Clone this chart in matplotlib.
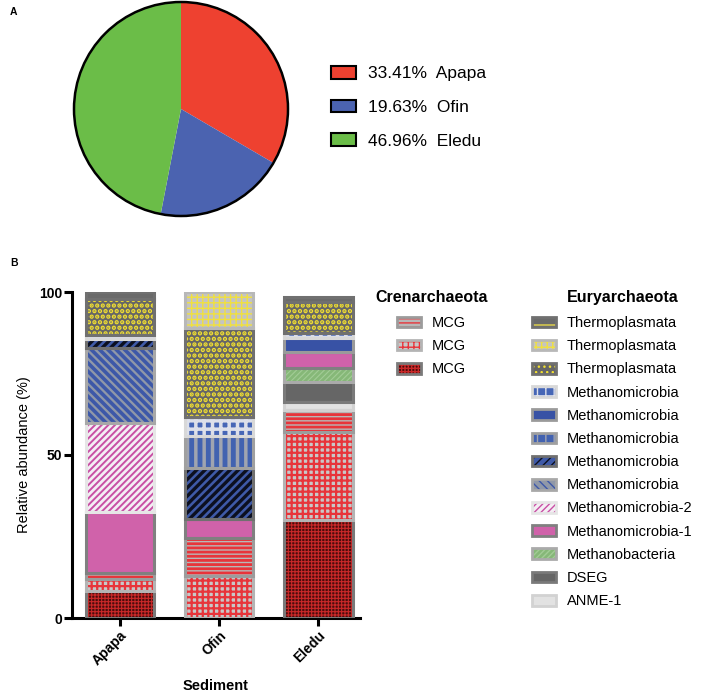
import matplotlib
matplotlib.use("Agg")
import matplotlib.pyplot as plt
from matplotlib.patches import Patch, Circle
import numpy as np

plt.rcParams['font.family'] = ['Liberation Sans', 'DejaVu Sans']

# ---------------- data ----------------
sites = ["Apapa", "Ofin", "Eledu"]
pie_pct = [33.41, 19.63, 46.96]
pie_colors = ["#ee4130", "#4b63b0", "#6bbd48"]

# stacked relative abundance (%), bottom -> top
mcg_dark = [8.4, 0.0, 30.0]
mcg_checker = [3.6, 13.0, 27.1]
mcg_stripes = [1.8, 11.5, 6.7]
anme1 = [0.0, 0.0, 2.6]
dseg = [0.0, 0.0, 6.0]
methanobacteria = [0.0, 0.0, 4.2]
methanomicrobia_1 = [18.8, 5.9, 5.0]
methanomicrobia_2 = [27.2, 0.0, 0.0]
mm_diag_light = [23.0, 0.0, 0.0]
mm_diag_dark = [2.7, 15.7, 0.0]
mm_vertical = [0.0, 9.8, 0.0]
mm_solid = [0.0, 0.0, 4.3]
mm_squares = [1.3, 5.7, 1.5]
thermo_dots = [11.2, 27.4, 9.5]
thermo_brick = [0.0, 11.0, 0.0]
thermo_dash = [2.0, 0.0, 1.7]

stack_order = ["mcg_dark", "mcg_checker", "mcg_stripes", "anme1", "dseg",
               "methanobacteria", "mm1", "mm2", "mm_diag_light", "mm_diag_dark",
               "mm_vertical", "mm_solid", "mm_squares", "thermo_dots",
               "thermo_brick", "thermo_dash"]
values = {
    "mcg_dark": mcg_dark, "mcg_checker": mcg_checker, "mcg_stripes": mcg_stripes,
    "anme1": anme1, "dseg": dseg, "methanobacteria": methanobacteria,
    "mm1": methanomicrobia_1, "mm2": methanomicrobia_2,
    "mm_diag_light": mm_diag_light, "mm_diag_dark": mm_diag_dark,
    "mm_vertical": mm_vertical, "mm_solid": mm_solid, "mm_squares": mm_squares,
    "thermo_dots": thermo_dots, "thermo_brick": thermo_brick, "thermo_dash": thermo_dash,
}
labels = {
    "mcg_dark": "MCG", "mcg_checker": "MCG", "mcg_stripes": "MCG",
    "anme1": "ANME-1", "dseg": "DSEG", "methanobacteria": "Methanobacteria",
    "mm1": "Methanomicrobia-1", "mm2": "Methanomicrobia-2",
    "mm_diag_light": "Methanomicrobia", "mm_diag_dark": "Methanomicrobia",
    "mm_vertical": "Methanomicrobia", "mm_solid": "Methanomicrobia",
    "mm_squares": "Methanomicrobia", "thermo_dots": "Thermoplasmata",
    "thermo_brick": "Thermoplasmata", "thermo_dash": "Thermoplasmata",
}
cren_legend = ["mcg_stripes", "mcg_checker", "mcg_dark"]
eury_legend = ["thermo_dash", "thermo_brick", "thermo_dots", "mm_squares", "mm_solid",
               "mm_vertical", "mm_diag_dark", "mm_diag_light", "mm2", "mm1",
               "methanobacteria", "dseg", "anme1"]

# ---------------- styles ----------------
styles = {
    "mcg_dark": dict(face="#4a0c0c", hatch="+++++", hc="#c82828", hlw=0.8, border="#7a7a7a"),
    "mcg_checker": dict(face="#c8c8c8", hatch="+++", hc="#e8343a", hlw=1.6, border="#b4b4b4"),
    "mcg_stripes": dict(face="#b8b8b8", hatch="----", hc="#e8343a", hlw=2.0, border="#9c9c9c"),
    "anme1": dict(face="#e2e2e2", hatch=None, hc=None, hlw=1, border="#d2d2d2"),
    "dseg": dict(face="#666666", hatch=None, hc=None, hlw=1, border="#7a7a7a"),
    "methanobacteria": dict(face="#86b878", hatch="//////", hc="#a2cc96", hlw=0.8, border="#aaaaaa"),
    "mm1": dict(face="#d062aa", hatch=None, hc=None, hlw=1, border="#808080"),
    "mm2": dict(face="#f4eef4", hatch="/////", hc="#c84fa4", hlw=1.4, border="#e6e6e6"),
    "mm_diag_light": dict(face="#9098a8", hatch="\\\\\\\\", hc="#3d58a8", hlw=2.6, border="#a8a8a8"),
    "mm_diag_dark": dict(face="#3f5aa8", hatch="////", hc="#0c1020", hlw=2.4, border="#707070"),
    "mm_vertical": dict(face="#4262b0", hatch="||", hc="#a0a4b0", hlw=2.5, border="#a0a0a0"),
    "mm_solid": dict(face="#3852a5", hatch=None, hc=None, hlw=1, border="#9a9a9a"),
    "mm_squares": dict(face="#4666b6", hatch="++", hc="#dde0ea", hlw=2.5, border="#d8d8d8"),
    "thermo_dots": dict(face="#666666", hatch="...", hc="#f2e030", hlw=2.2, border="#707070"),
    "thermo_brick": dict(face="#c4c4c4", hatch="+++", hc="#f0e040", hlw=1.0, border="#b8b8b8"),
    "thermo_dash": dict(face="#6a6a6a", hatch="-", hc="#e8d84a", hlw=1.2, border="#707070"),
}
BORDER_LW = 2.2


def set_hlw(p, lw):
    if hasattr(p, "set_hatch_linewidth"):
        p.set_hatch_linewidth(lw)


fig = plt.figure(figsize=(7.08, 6.93), dpi=100)
W, H = 708.0, 693.0

# ---------------- panel A: pie ----------------
axp = fig.add_axes([74 / W, (H - 216) / H, 214 / W, 214 / H])
wedges, _ = axp.pie(pie_pct, colors=pie_colors, startangle=90, counterclock=False,
                    wedgeprops=dict(linewidth=0))
axp.add_patch(Circle((0, 0), 1.0, fill=False, lw=1.8, ec="black", zorder=5, clip_on=False))
axp.set_xlim(-1, 1)
axp.set_ylim(-1, 1)
axp.set_aspect("equal")
axp.axis("off")
pie_handles = [Patch(facecolor=c, edgecolor="black", lw=1.5) for c in pie_colors]
pie_labels = [f"{v:.2f}%  {s}" for v, s in zip(pie_pct, sites)]
fig.legend(pie_handles, pie_labels, loc="upper left",
           bbox_to_anchor=(331 / W, (H - 66) / H), bbox_transform=fig.transFigure,
           frameon=False, fontsize=12.5, handlelength=1.45, handleheight=0.75,
           handletextpad=0.7, labelspacing=1.05, borderpad=0, borderaxespad=0)

# ---------------- panel B: stacked bars ----------------
ax = fig.add_axes([72 / W, (H - 618) / H, 288 / W, 326 / H])
x = np.arange(len(sites))
bw = 0.69
bottom = np.zeros(len(sites))
fill_layers = []
for key in stack_order:
    v = np.array(values[key], dtype=float)
    st = styles[key]
    with plt.rc_context({"hatch.linewidth": st["hlw"]}):
        bars = ax.bar(x, v, bw, bottom=bottom, color=st["face"],
                      edgecolor=st["hc"] if st["hc"] else st["face"],
                      hatch=st["hatch"], linewidth=0, zorder=2)
    for p in bars.patches:
        set_hlw(p, st["hlw"])
    fill_layers.append((key, bars, bottom.copy(), v))
    bottom = bottom + v

for key, bars, b0, v in fill_layers:
    st = styles[key]
    borders = ax.bar(x, v, bw, bottom=b0, facecolor="none", edgecolor=st["border"],
                     linewidth=BORDER_LW, zorder=3)
    for p, val in zip(borders.patches, v):
        if val <= 0:
            p.set_visible(False)
    for p, val in zip(bars.patches, v):
        if val <= 0:
            p.set_visible(False)

ax.set_xlim(-0.485, 2.42)
ax.set_ylim(0, 100)
ax.set_yticks([0, 50, 100])
ax.set_xticks(x)
ax.set_xticklabels(sites, rotation=45, ha="right", rotation_mode="anchor",
                   fontsize=10, fontweight="bold")
for t in ax.get_yticklabels():
    t.set_fontweight("bold")
    t.set_fontsize(10)
ax.tick_params(axis="both", width=2.2, length=6, pad=1.5)
ax.tick_params(axis="y", pad=1)
for s in ["top", "right"]:
    ax.spines[s].set_visible(False)
for s in ["left", "bottom"]:
    ax.spines[s].set_linewidth(2.2)
ax.set_ylabel("Relative abundance (%)", fontsize=10.5, labelpad=6)
ax.set_xlabel("Sediment", fontsize=10.5, fontweight="bold", labelpad=8)


def legend_handles(keys):
    hs = []
    for key in keys:
        st = styles[key]
        with plt.rc_context({"hatch.linewidth": st["hlw"]}):
            p1 = Patch(facecolor=st["face"], edgecolor=st["hc"] if st["hc"] else st["face"],
                       hatch=st["hatch"], lw=0)
        set_hlw(p1, st["hlw"])
        p2 = Patch(facecolor="none", edgecolor=st["border"], lw=2.0)
        hs.append((p1, p2))
    return hs


fig.text(375 / W, (H - 298) / H, "Crenarchaeota", fontsize=11.5, fontweight="bold",
         ha="left", va="center")
fig.text(567 / W, (H - 298) / H, "Euryarchaeota", fontsize=11.5, fontweight="bold",
         ha="left", va="center")

leg_kw = dict(loc="upper left", bbox_transform=fig.transFigure, frameon=False,
              fontsize=10.5, handlelength=1.65, handleheight=0.75, handletextpad=0.75,
              labelspacing=0.63, borderpad=0, borderaxespad=0)
fig.legend(legend_handles(cren_legend), [labels[k] for k in cren_legend],
           bbox_to_anchor=(397 / W, (H - 316) / H), **leg_kw)
fig.legend(legend_handles(eury_legend), [labels[k] for k in eury_legend],
           bbox_to_anchor=(532 / W, (H - 316) / H), **leg_kw)

fig.text(10 / W, (H - 12) / H, "A", fontsize=7.5, fontweight="bold", va="center")
fig.text(10 / W, (H - 263) / H, "B", fontsize=7.5, fontweight="bold", va="center")

fig.savefig("out.png", dpi=100)
